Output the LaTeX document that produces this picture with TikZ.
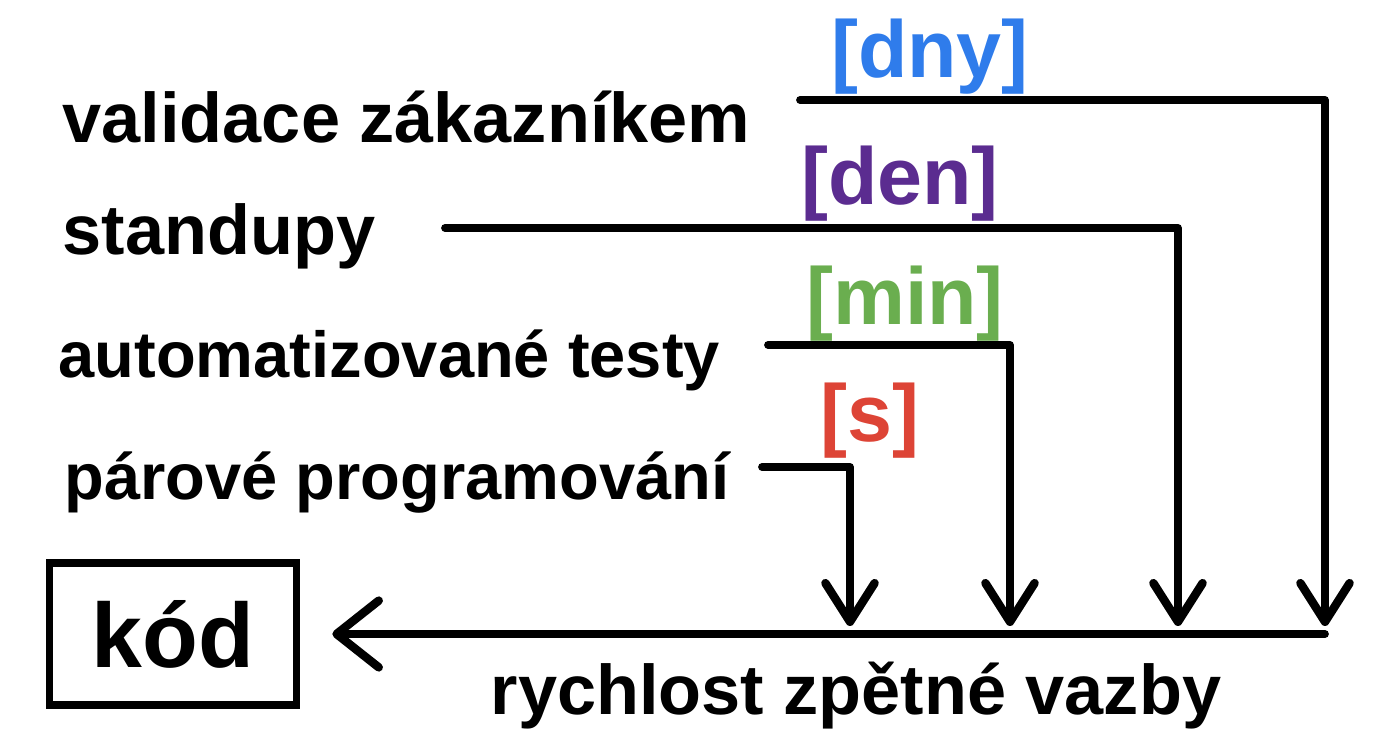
\documentclass[tikz,border=0pt]{standalone}
\usepackage{fontspec}
\setmainfont{Liberation Sans}
\usetikzlibrary{arrows.meta}
\definecolor{unitblue}{HTML}{2F7CEB}
\definecolor{unitpurple}{HTML}{5B2C90}
\definecolor{unitgreen}{HTML}{6AAE4F}
\definecolor{unitred}{HTML}{DD4436}

\begin{document}
\begin{tikzpicture}[x=0.1mm, y=-0.1mm,
    practice/.style={anchor=base west, inner sep=0pt, font=\fontsize{#1}{24}\selectfont\bfseries},
    practice/.default=20,
    unit/.style={anchor=base, inner sep=0pt, font=\fontsize{23}{27}\selectfont\bfseries},
    feed/.style={line width=2.2pt, line cap=round, line join=round},
    tipdown/.style={feed, -{Straight Barb[length=11pt, width=14pt, line width=2.4pt, round]}}]
  \useasboundingbox (0,0) rectangle (1392,756);
  % Practices, from slowest to fastest feedback.
  \node[practice]       (val)   at (62,143) {validace zákazníkem};
  \node[practice]       (stand) at (62,255) {standupy};
  \node[practice=18.5]  (auto)  at (58,378) {automatizované testy};
  \node[practice=18.5]  (pair)  at (64,500) {párové programování};
  % Time units above the lines.
  \node[unit, text=unitblue]   (dny) at (930,78)  {[dny]};
  \node[unit, text=unitpurple] (den) at (900,205) {[den]};
  \node[unit, text=unitgreen]  (min) at (905,325) {[min]};
  \node[unit, text=unitred]    (sec) at (870,442) {[s]};
  % Code box and axis label.
  \node[draw, line width=2.2pt, minimum width=247*0.1mm, minimum height=142*0.1mm,
        font=\fontsize{26}{30}\selectfont\bfseries] (kod) at (173,634) {kód};
  \node[practice] (rych) at (490,715) {rychlost zpětné vazby};
  % Line starts and their drop points on the feedback axis.
  \coordinate (vs) at (800,100);  \coordinate (ve) at (1325,626);
  \coordinate (ss) at (445,228);  \coordinate (se) at (1178,626);
  \coordinate (as) at (768,345);  \coordinate (ae) at (1010,626);
  \coordinate (ps) at (762,467);  \coordinate (pe) at (850,626);
  \coordinate (axis) at (1325,634);
  \draw[tipdown] (vs) -| (ve);
  \draw[tipdown] (ss) -| (se);
  \draw[tipdown] (as) -| (ae);
  \draw[tipdown] (ps) -| (pe);
  \draw[feed, -{Straight Barb[length=12pt, width=19pt, line width=2.4pt, round]},
        shorten >=32*0.1mm] (axis) -- (kod.east);
\end{tikzpicture}
\end{document}
